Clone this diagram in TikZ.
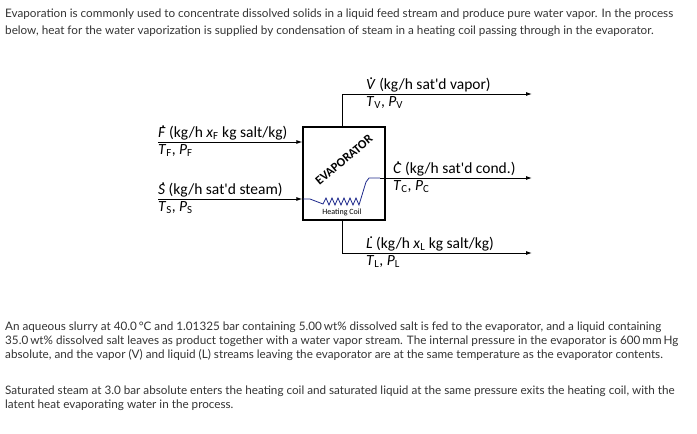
\documentclass[tikz,border=0pt]{standalone}
\usepackage{fontspec}
\setmainfont{Lato}
\newfontfamily\dfont{Carlito}
\usetikzlibrary{arrows.meta}
\definecolor{txt}{HTML}{333333}
\definecolor{coil}{HTML}{1F2A8C}
\newcommand{\dq}[1]{\textit{\rlap{\hspace{0.22em}\raisebox{0.62em}{.}}#1}}
\newcommand{\vs}[2]{\textit{#1}\textsubscript{#2}}
\begin{document}
\begin{tikzpicture}[x=1pt,y=-1pt,
  para/.style={anchor=west,inner sep=0,font=\fontsize{11.7}{14}\selectfont,text=txt},
  lab/.style={anchor=south west,inner sep=1pt,font=\dfont\fontsize{15.5}{17}\selectfont},
  labb/.style={anchor=north west,inner sep=1pt,font=\dfont\fontsize{15.5}{17}\selectfont},
  flow/.style={line width=0.9pt,-{Latex[length=6pt,width=4pt]}},
  pipe/.style={line width=0.9pt}]
\useasboundingbox (0,0) rectangle (697,434);
\node[para] (t1) at (5,14) {Evaporation is commonly used to concentrate dissolved solids in a liquid feed stream and produce pure water vapor. In the process};
\node[para] (t2) at (5,31) {below, heat for the water vaporization is supplied by condensation of steam in a heating coil passing through in the evaporator.};
\node[para] (p1) at (5,327) {An aqueous slurry at 40.0\,°C and 1.01325 bar containing 5.00\,wt\% dissolved salt is fed to the evaporator, and a liquid containing};
\node[para] (p2) at (5,341) {35.0\,wt\% dissolved salt leaves as product together with a water vapor stream. The internal pressure in the evaporator is 600\,mm\,Hg};
\node[para] (p3) at (5,355) {absolute, and the vapor (V) and liquid (L) streams leaving the evaporator are at the same temperature as the evaporator contents.};
\node[para] (p4) at (5,391) {Saturated steam at 3.0 bar absolute enters the heating coil and saturated liquid at the same pressure exits the heating coil, with the};
\node[para] (p5) at (5,405) {latent heat evaporating water in the process.};
% box
\node[draw,line width=1.2pt,minimum width=82pt,minimum height=93pt,inner sep=0] (box) at (344,173.5) {};
\node[rotate=40,font=\dfont\bfseries\fontsize{12.5}{14}\selectfont] (ev) at (344,160) {EVAPORATOR};
\node[font=\dfont\fontsize{8}{9}\selectfont] (hc) at (342,212) {Heating Coil};
% coordinates
\coordinate (fin) at (158,142);
\coordinate (sin) at (158,199);
\coordinate (vt) at (342,94);
\coordinate (vo) at (532,94);
\coordinate (lb) at (342,253);
\coordinate (lo) at (532,253);
\coordinate (ci) at (380,178);
\coordinate (co) at (532,178);
\draw[flow] (fin) -- (fin -| box.west);
\draw[flow] (sin) -- (sin -| box.west);
\draw[pipe] (box.north -| vt) -- (vt);
\draw[flow] (vt) -- (vo);
\draw[pipe] (box.south -| lb) -- (lb);
\draw[flow] (lb) -- (lo);
\draw[flow] (ci) -- (co);
\draw[coil,line width=0.8pt] (303,199) -- (310,199) -- (323,204) -- (326,198) -- (329,205) -- (332,198) -- (335,205) -- (338,198) -- (341,205) -- (344,198) -- (347,205) -- (350,198) -- (353,205) -- (356,198) -- (359,205) -- (366,182) -- (369,178) -- (ci);
% labels
\node[lab] (lf) at (157,141) {\dq{F} (kg/h \vs{x}{F} kg salt/kg)};
\node[labb] (lf2) at (157,143) {\vs{T}{F}, \vs{P}{F}};
\node[lab] (ls) at (157,198) {\dq{S} (kg/h sat'd steam)};
\node[labb] (ls2) at (157,200) {\vs{T}{S}, \vs{P}{S}};
\node[lab] (lv) at (365,93) {\dq{V} (kg/h sat'd vapor)};
\node[labb] (lv2) at (365,95) {\vs{T}{V}, \vs{P}{V}};
\node[lab] (lc) at (392,177) {\dq{C} (kg/h sat'd cond.)};
\node[labb] (lc2) at (392,179) {\vs{T}{C}, \vs{P}{C}};
\node[lab] (ll) at (365,252) {\dq{L} (kg/h \vs{x}{L} kg salt/kg)};
\node[labb] (ll2) at (365,254) {\vs{T}{L}, \vs{P}{L}};
\end{tikzpicture}
\end{document}
